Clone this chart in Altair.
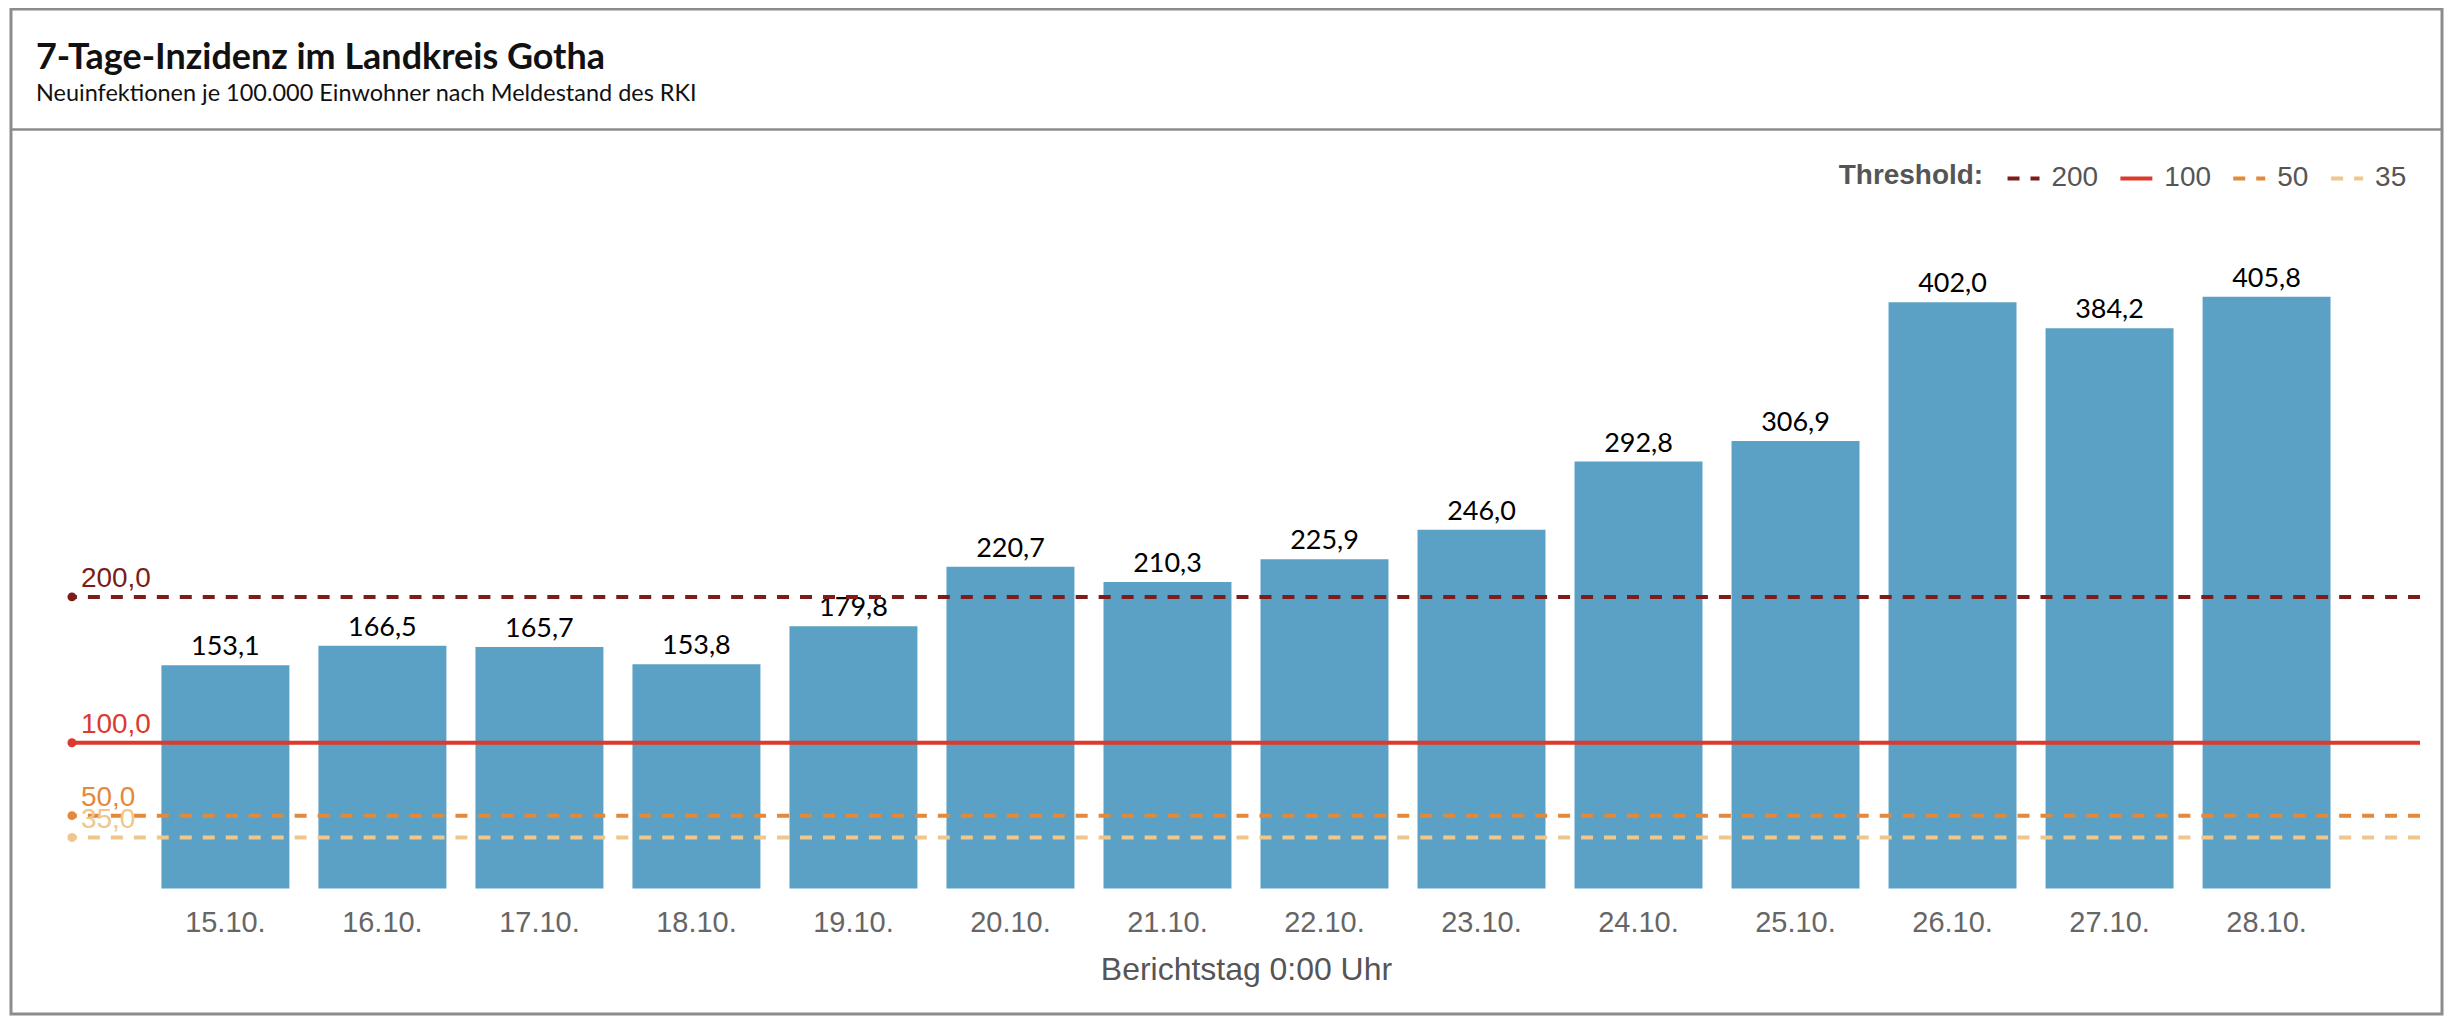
import altair as alt
import pandas as pd

# ---------------- data ----------------
dates = ["15.10.", "16.10.", "17.10.", "18.10.", "19.10.", "20.10.", "21.10.",
         "22.10.", "23.10.", "24.10.", "25.10.", "26.10.", "27.10.", "28.10."]
values = [153.1, 166.5, 165.7, 153.8, 179.8, 220.7, 210.3,
          225.9, 246.0, 292.8, 306.9, 402.0, 384.2, 405.8]

threshold_values = [200, 100, 50, 35]
threshold_names = ["200", "100", "50", "35"]
threshold_colors = ["#7d1c18", "#db3a2c", "#e4893a", "#edc78b"]
threshold_dashes = [[12, 11], [1, 0], [12, 11], [12, 11]]

title_text = "7-Tage-Inzidenz im Landkreis Gotha"
subtitle_text = "Neuinfektionen je 100.000 Einwohner nach Meldestand des RKI"
x_title = "Berichtstag 0:00 Uhr"
legend_title = "Threshold:"


def de_num(v):
    return f"{v:.1f}".replace(".", ",")


bars_df = pd.DataFrame({"tag": dates, "wert": values,
                        "beschriftung": [de_num(v) for v in values]})
thr_df = pd.DataFrame({"schwelle": threshold_names, "wert": threshold_values,
                       "beschriftung": [de_num(v) for v in threshold_values]})

W, H = 2351, 657
GRAY = "#8c8c8c"

y_scale = alt.Scale(domain=[0, 450], nice=False)
x_axis = alt.Axis(title=x_title, labelAngle=0, domain=False, ticks=False, tickSize=0,
                  labelPadding=20, labelFont="Liberation Sans", labelFontSize=29,
                  labelColor="#666666", titleFont="Liberation Sans", titleFontSize=32,
                  titleFontWeight="normal", titleColor="#555555", titlePadding=17)
x_enc = alt.X("tag:N", sort=dates,
              scale=alt.Scale(paddingInner=0.185, paddingOuter=0.57), axis=x_axis)

color_scale = alt.Scale(domain=threshold_names, range=threshold_colors)
dash_scale = alt.Scale(domain=threshold_names, range=threshold_dashes)

legend = alt.Legend(
    title=legend_title, orient="none", legendX=1769, legendY=-72,
    direction="horizontal", titleOrient="left",
    titleFont="Liberation Sans", titleFontSize=28, titleFontWeight="bold",
    titleColor="#555555", labelFont="Liberation Sans", labelFontSize=28,
    labelColor="#555555", symbolType="stroke", symbolSize=1024,
    symbolStrokeWidth=4, labelOffset=10, columnPadding=14, titlePadding=22,
)

one = alt.Data(values=[{}])

frame = alt.Chart(one).mark_rect(fill="transparent", stroke=GRAY, strokeWidth=3).encode(
    x=alt.value(-61), x2=alt.value(2373), y=alt.value(-223.5), y2=alt.value(782.5))
separator = alt.Chart(one).mark_rule(color=GRAY, strokeWidth=2.5).encode(
    x=alt.value(-62), x2=alt.value(2374), y=alt.value(-103))

title = alt.Chart(alt.Data(values=[{"t": title_text}])).mark_text(
    align="left", baseline="alphabetic", font="Lato", fontSize=36,
    fontWeight="bold", color="#111111").encode(
    x=alt.value(-36), y=alt.value(-164), text="t:N")
subtitle = alt.Chart(alt.Data(values=[{"t": subtitle_text}])).mark_text(
    align="left", baseline="alphabetic", font="Lato", fontSize=23.5,
    color="#111111").encode(
    x=alt.value(-36), y=alt.value(-132), text="t:N")

bars = alt.Chart(bars_df).mark_bar(color="#5ba0c5").encode(
    x=x_enc, y=alt.Y("wert:Q", scale=y_scale, axis=None))
bar_labels = alt.Chart(bars_df).mark_text(
    font="Lato", fontSize=27, color="#000000", baseline="alphabetic", dy=-10).encode(
    x=alt.X("tag:N", sort=dates), y=alt.Y("wert:Q", scale=y_scale),
    text="beschriftung:N")

rules = alt.Chart(thr_df).mark_rule(strokeWidth=4).encode(
    y=alt.Y("wert:Q", scale=y_scale),
    color=alt.Color("schwelle:N", scale=color_scale, legend=legend),
    strokeDash=alt.StrokeDash("schwelle:N", scale=dash_scale, legend=legend))
dots = alt.Chart(thr_df).mark_circle(size=80, opacity=1).encode(
    x=alt.value(0), y=alt.Y("wert:Q", scale=y_scale),
    color=alt.Color("schwelle:N", scale=color_scale, legend=None))
thr_labels = alt.Chart(thr_df).mark_text(
    align="left", baseline="alphabetic", dy=-10, font="Liberation Sans",
    fontSize=28).encode(
    x=alt.value(9), y=alt.Y("wert:Q", scale=y_scale), text="beschriftung:N",
    color=alt.Color("schwelle:N", scale=color_scale, legend=None))

chart = alt.layer(frame, separator, title, subtitle, bars, bar_labels,
                  rules, dots, thr_labels).properties(
    width=W, height=H,
    padding={"left": 64, "top": 224, "right": 26, "bottom": 129},
    autosize=alt.AutoSizeParams(type="none"),
).configure_view(stroke=None)

chart.save("out.html", embed_options={"renderer": "svg", "actions": False})
